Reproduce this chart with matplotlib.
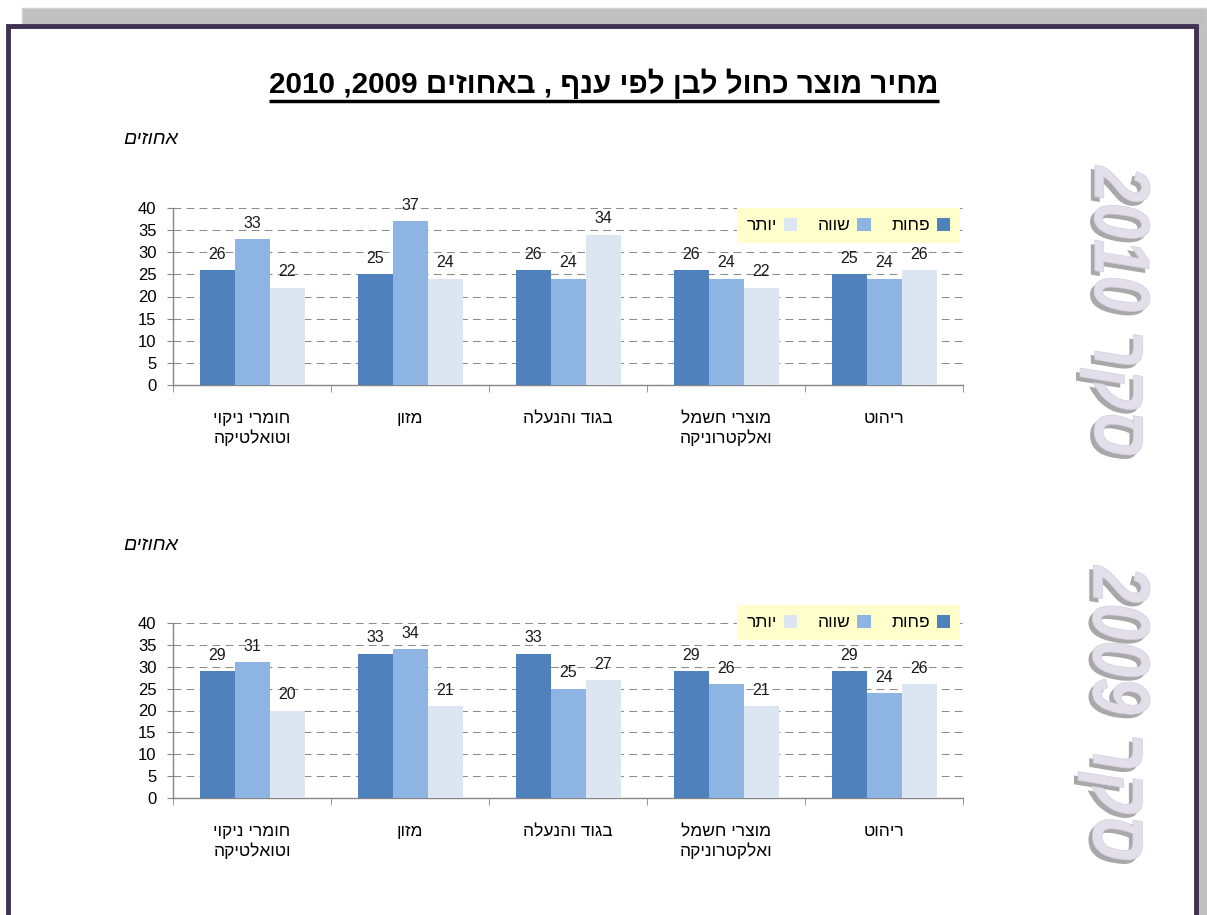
import re
import numpy as np
import matplotlib
matplotlib.use("Agg")
import matplotlib.pyplot as plt
from matplotlib.patches import Rectangle, PathPatch
from matplotlib.textpath import TextPath
from matplotlib.font_manager import FontProperties
from matplotlib.transforms import Affine2D

plt.rcParams['font.family'] = ['Liberation Sans', 'DejaVu Sans']


def heb(s):
    # matplotlib has no bidi: reverse to visual order, keep digit runs
    r = s[::-1]
    return re.sub(r'\d+', lambda m: m.group(0)[::-1], r)


title = 'מחיר מוצר כחול לבן לפי ענף , באחוזים 2009, 2010'
unit_label = 'אחוזים'
categories = ['חומרי ניקוי\nוטואלטיקה', 'מזון', 'בגוד והנעלה',
              'מוצרי חשמל\nואלקטרוניקה', 'ריהוט']
series_names = ['פחות', 'שווה', 'יותר']
colors = ['#4F81BD', '#8EB4E3', '#DCE6F2']

less_2010 = [26, 25, 26, 26, 25]
same_2010 = [33, 37, 24, 24, 24]
more_2010 = [22, 24, 34, 22, 26]

less_2009 = [29, 33, 33, 29, 29]
same_2009 = [31, 34, 25, 26, 24]
more_2009 = [20, 21, 27, 21, 26]

W, H = 1207, 915
fig = plt.figure(figsize=(W / 100, H / 100), dpi=100)

# background frame in pixel coords (y up)
bg = fig.add_axes([0, 0, 1, 1])
bg.set_xlim(0, W)
bg.set_ylim(0, H)
bg.axis('off')
bg.add_patch(Rectangle((22, H - 26), W - 22, 18, facecolor='#C0C0C0', edgecolor='#D0D0D0', lw=1))
bg.add_patch(Rectangle((1198, -5), 12, H - 20, facecolor='#C0C0C0', edgecolor='none'))
bg.add_patch(Rectangle((8, -10), 1188, H - 16, facecolor='white', edgecolor='#3F3151', lw=3.5))


def watermark(text, x0, y_top, length, height):
    fp = FontProperties(family=['Liberation Sans', 'DejaVu Sans'], weight='bold', style='italic')
    tp = TextPath((0, 0), heb(text), size=100, prop=fp)
    bb = tp.get_extents()
    tr = (Affine2D().translate(-bb.x0, -bb.y0)
          .scale(length / bb.width, height / bb.height)
          .rotate_deg(-90).translate(x0, y_top))
    path = tr.transform_path(tp)
    shadow = Affine2D().translate(-4, -4).transform_path(path)
    bg.add_patch(PathPatch(shadow, facecolor='#A8A8A8', edgecolor='none'))
    bg.add_patch(PathPatch(path, facecolor='#E2DFEB', edgecolor='#D2CEDD', lw=0.5))


watermark('סקר 2010', 1080, H - 165, 290, 70)
watermark('סקר 2009', 1078, H - 565, 295, 72)

# title with underline
t = fig.text(604 / W, 1 - 84 / H, heb(title), ha='center', va='center',
             fontsize=21.3, fontweight='bold')


def draw_panel(top_px, bottom_px, values, legend_top_px):
    ax = fig.add_axes([173 / W, 1 - bottom_px / H, 790 / W, (bottom_px - top_px) / H])
    x = np.arange(len(categories))
    w = 35 / 158
    for i, (vals, c) in enumerate(zip(values, colors)):
        bars = ax.bar(x + (i - 1) * w, vals, w, color=c, edgecolor='none',
                      label=heb(series_names[i]), zorder=3)
        ax.bar_label(bars, padding=6, fontsize=11.5, color='#1A1A1A')
    ax.set_xlim(-0.5, len(categories) - 0.5)
    ax.set_ylim(0, 40)
    ax.set_yticks(range(0, 41, 5))
    ax.yaxis.grid(True, color='#8C8C8C', linestyle=(0, (7.5, 5)), linewidth=0.75, zorder=0)
    ax.set_axisbelow(True)
    for s in ['top', 'right']:
        ax.spines[s].set_visible(False)
    for s in ['left', 'bottom']:
        ax.spines[s].set_color('#868686')
        ax.spines[s].set_linewidth(1)
    ax.tick_params(axis='y', direction='out', length=4, color='#868686',
                   labelsize=12, pad=8)
    ax.set_xticks(np.arange(-0.5, len(categories), 1), minor=True)
    ax.tick_params(axis='x', which='minor', direction='out', length=5, color='#868686')
    ax.set_xticks(x)
    ax.set_xticklabels(['\n'.join(heb(l) for l in c.split('\n')) for c in categories],
                       fontsize=12.5, linespacing=1.2, va='top')
    ax.tick_params(axis='x', which='major', length=0, pad=19)
    h, l = ax.get_legend_handles_labels()
    leg = ax.legend(h[::-1], l[::-1], ncol=3, markerfirst=False, loc='upper right',
                    bbox_to_anchor=(960 / W, 1 - legend_top_px / H),
                    bbox_transform=fig.transFigure, borderaxespad=0,
                    fontsize=12.5, frameon=True, fancybox=False,
                    facecolor='#FFFFCC', edgecolor='none', framealpha=1,
                    handlelength=0.8, handleheight=0.8, handletextpad=0.4,
                    columnspacing=1.15, borderpad=0.55)
    leg.set_zorder(5)
    return ax


ax1 = draw_panel(208, 385, [less_2010, same_2010, more_2010], 208)
ax2 = draw_panel(623, 798, [less_2009, same_2009, more_2009], 605)

fig.text(178 / W, 1 - 139 / H, heb(unit_label), ha='right', va='center',
         fontsize=14, style='italic')
fig.text(178 / W, 1 - 546 / H, heb(unit_label), ha='right', va='center',
         fontsize=14, style='italic')

fig.canvas.draw()
bb = t.get_window_extent()
bg.plot([bb.x0, bb.x1], [bb.y0 - 2, bb.y0 - 2], color='black', lw=2.5,
        solid_capstyle='butt')

fig.savefig('out.png', dpi=100)
